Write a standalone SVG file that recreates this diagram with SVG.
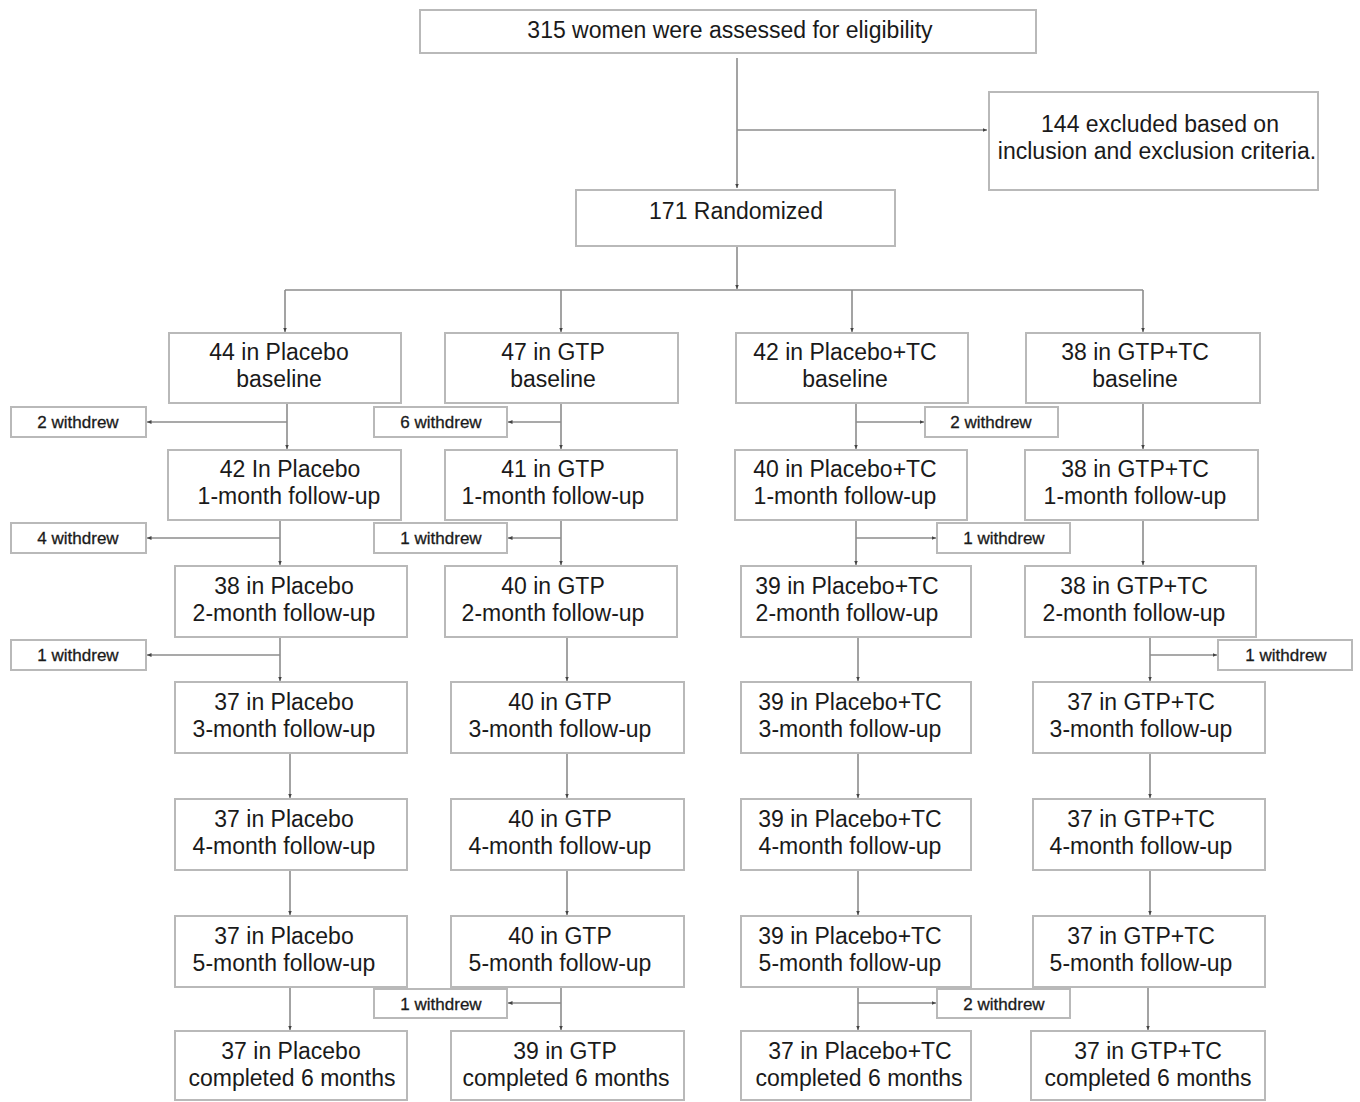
<svg xmlns="http://www.w3.org/2000/svg" width="1360" height="1102" viewBox="0 0 1360 1102">
<style>
.box{fill:#fff;stroke:#b9b9b9;stroke-width:2}
.t{font-family:"Liberation Sans",Arial,sans-serif;font-size:23px;fill:#1a1a1a;text-anchor:middle}
.w{font-family:"Liberation Sans",Arial,sans-serif;font-size:17px;fill:#1a1a1a;text-anchor:middle;stroke:#1a1a1a;stroke-width:0.3}
.c{stroke:#8c8c8c;stroke-width:1.6;fill:none}
.a{marker-end:url(#ah)}
</style>
<defs>
<marker id="ah" markerUnits="userSpaceOnUse" markerWidth="5" markerHeight="5" refX="4.5" refY="2.5" orient="auto">
<path d="M0,0.5 L4.5,2.5 L0,4.5 z" fill="#444"/>
</marker>
</defs>
<rect width="1360" height="1102" fill="#fff"/>
<g id="connectors">
<path class="c a" d="M737,58 V188"/>
<path class="c a" d="M737,130 H987"/>
<path class="c a" d="M737,246 V289"/>
<path class="c" d="M285,290 H1143"/>
<path class="c a" d="M285,290 V332"/>
<path class="c a" d="M561,290 V332"/>
<path class="c a" d="M852,290 V332"/>
<path class="c a" d="M1143,290 V332"/>
<!-- Placebo -->
<path class="c a" d="M287,404 V449"/>
<path class="c a" d="M287,422 H147"/>
<path class="c a" d="M280,521 V565"/>
<path class="c a" d="M280,538 H147"/>
<path class="c a" d="M280,638 V681"/>
<path class="c a" d="M280,655 H147"/>
<path class="c a" d="M290,754 V798"/>
<path class="c a" d="M290,871 V915"/>
<path class="c a" d="M290,988 V1030"/>
<!-- GTP -->
<path class="c a" d="M561,404 V449"/>
<path class="c a" d="M561,422 H508"/>
<path class="c a" d="M561,521 V565"/>
<path class="c a" d="M561,538 H508"/>
<path class="c a" d="M567,638 V681"/>
<path class="c a" d="M567,754 V798"/>
<path class="c a" d="M567,871 V915"/>
<path class="c a" d="M561,988 V1030"/>
<path class="c a" d="M561,1003 H508"/>
<!-- Placebo+TC -->
<path class="c a" d="M856,404 V449"/>
<path class="c a" d="M856,422 H924"/>
<path class="c a" d="M856,521 V565"/>
<path class="c a" d="M856,538 H936"/>
<path class="c a" d="M858,638 V681"/>
<path class="c a" d="M858,754 V798"/>
<path class="c a" d="M858,871 V915"/>
<path class="c a" d="M858,988 V1030"/>
<path class="c a" d="M858,1003 H936"/>
<!-- GTP+TC -->
<path class="c a" d="M1143,404 V449"/>
<path class="c a" d="M1143,521 V565"/>
<path class="c a" d="M1150,638 V681"/>
<path class="c a" d="M1150,655 H1217"/>
<path class="c a" d="M1150,754 V798"/>
<path class="c a" d="M1150,871 V915"/>
<path class="c a" d="M1148,988 V1030"/>
</g>

<g id="n-assessed"><rect class="box" x="420" y="10" width="616" height="43"/><text class="t" x="730" y="38">315 women were assessed for eligibility</text></g>
<g id="n-excluded"><rect class="box" x="989" y="92" width="329" height="98"/><text class="t" x="1160" y="132">144 excluded based on</text><text class="t" x="1157" y="159">inclusion and exclusion criteria.</text></g>
<g id="n-randomized"><rect class="box" x="576" y="190" width="319" height="56"/><text class="t" x="736" y="219">171 Randomized</text></g>

<g id="n-p0"><rect class="box" x="169" y="333" width="232" height="70"/><text class="t" x="279" y="360">44 in Placebo</text><text class="t" x="279" y="387">baseline</text></g>
<g id="n-g0"><rect class="box" x="445" y="333" width="233" height="70"/><text class="t" x="553" y="360">47 in GTP</text><text class="t" x="553" y="387">baseline</text></g>
<g id="n-pt0"><rect class="box" x="736" y="333" width="232" height="70"/><text class="t" x="845" y="360">42 in Placebo+TC</text><text class="t" x="845" y="387">baseline</text></g>
<g id="n-gt0"><rect class="box" x="1026" y="333" width="234" height="70"/><text class="t" x="1135" y="360">38 in GTP+TC</text><text class="t" x="1135" y="387">baseline</text></g>

<g id="w-p0"><rect class="box" x="11" y="407" width="135" height="30"/><text class="w" x="78" y="428">2 withdrew</text></g>
<g id="w-g0"><rect class="box" x="374" y="407" width="133" height="30"/><text class="w" x="441" y="428">6 withdrew</text></g>
<g id="w-pt0"><rect class="box" x="925" y="407" width="133" height="30"/><text class="w" x="991" y="428">2 withdrew</text></g>

<g id="n-p1"><rect class="box" x="168" y="450" width="233" height="70"/><text class="t" x="290" y="477">42  In Placebo</text><text class="t" x="289" y="504">1-month follow-up</text></g>
<g id="n-g1"><rect class="box" x="445" y="450" width="232" height="70"/><text class="t" x="553" y="477">41 in GTP</text><text class="t" x="553" y="504">1-month follow-up</text></g>
<g id="n-pt1"><rect class="box" x="735" y="450" width="232" height="70"/><text class="t" x="845" y="477">40 in Placebo+TC</text><text class="t" x="845" y="504">1-month follow-up</text></g>
<g id="n-gt1"><rect class="box" x="1025" y="450" width="233" height="70"/><text class="t" x="1135" y="477">38 in GTP+TC</text><text class="t" x="1135" y="504">1-month follow-up</text></g>

<g id="w-p1"><rect class="box" x="11" y="523" width="135" height="30"/><text class="w" x="78" y="544">4 withdrew</text></g>
<g id="w-g1"><rect class="box" x="374" y="523" width="133" height="30"/><text class="w" x="441" y="544">1 withdrew</text></g>
<g id="w-pt1"><rect class="box" x="937" y="523" width="133" height="30"/><text class="w" x="1004" y="544">1 withdrew</text></g>

<g id="n-p2"><rect class="box" x="175" y="566" width="232" height="71"/><text class="t" x="284" y="594">38 in Placebo</text><text class="t" x="284" y="621">2-month follow-up</text></g>
<g id="n-g2"><rect class="box" x="445" y="566" width="232" height="71"/><text class="t" x="553" y="594">40 in GTP</text><text class="t" x="553" y="621">2-month follow-up</text></g>
<g id="n-pt2"><rect class="box" x="741" y="566" width="230" height="71"/><text class="t" x="847" y="594">39 in Placebo+TC</text><text class="t" x="847" y="621">2-month follow-up</text></g>
<g id="n-gt2"><rect class="box" x="1025" y="566" width="231" height="71"/><text class="t" x="1134" y="594">38 in GTP+TC</text><text class="t" x="1134" y="621">2-month follow-up</text></g>

<g id="w-p2"><rect class="box" x="11" y="640" width="135" height="30"/><text class="w" x="78" y="661">1 withdrew</text></g>
<g id="w-gt2"><rect class="box" x="1218" y="640" width="134" height="30"/><text class="w" x="1286" y="661">1 withdrew</text></g>

<g id="n-p3"><rect class="box" x="175" y="682" width="232" height="71"/><text class="t" x="284" y="710">37 in Placebo</text><text class="t" x="284" y="737">3-month follow-up</text></g>
<g id="n-g3"><rect class="box" x="451" y="682" width="233" height="71"/><text class="t" x="560" y="710">40 in GTP</text><text class="t" x="560" y="737">3-month follow-up</text></g>
<g id="n-pt3"><rect class="box" x="741" y="682" width="230" height="71"/><text class="t" x="850" y="710">39 in Placebo+TC</text><text class="t" x="850" y="737">3-month follow-up</text></g>
<g id="n-gt3"><rect class="box" x="1033" y="682" width="232" height="71"/><text class="t" x="1141" y="710">37 in GTP+TC</text><text class="t" x="1141" y="737">3-month follow-up</text></g>

<g id="n-p4"><rect class="box" x="175" y="799" width="232" height="71"/><text class="t" x="284" y="827">37 in Placebo</text><text class="t" x="284" y="854">4-month follow-up</text></g>
<g id="n-g4"><rect class="box" x="451" y="799" width="233" height="71"/><text class="t" x="560" y="827">40 in GTP</text><text class="t" x="560" y="854">4-month follow-up</text></g>
<g id="n-pt4"><rect class="box" x="741" y="799" width="230" height="71"/><text class="t" x="850" y="827">39 in Placebo+TC</text><text class="t" x="850" y="854">4-month follow-up</text></g>
<g id="n-gt4"><rect class="box" x="1033" y="799" width="232" height="71"/><text class="t" x="1141" y="827">37 in GTP+TC</text><text class="t" x="1141" y="854">4-month follow-up</text></g>

<g id="n-p5"><rect class="box" x="175" y="916" width="232" height="71"/><text class="t" x="284" y="944">37 in Placebo</text><text class="t" x="284" y="971">5-month follow-up</text></g>
<g id="n-g5"><rect class="box" x="451" y="916" width="233" height="71"/><text class="t" x="560" y="944">40 in GTP</text><text class="t" x="560" y="971">5-month follow-up</text></g>
<g id="n-pt5"><rect class="box" x="741" y="916" width="230" height="71"/><text class="t" x="850" y="944">39 in Placebo+TC</text><text class="t" x="850" y="971">5-month follow-up</text></g>
<g id="n-gt5"><rect class="box" x="1033" y="916" width="232" height="71"/><text class="t" x="1141" y="944">37 in GTP+TC</text><text class="t" x="1141" y="971">5-month follow-up</text></g>

<g id="w-g5"><rect class="box" x="374" y="989" width="133" height="29"/><text class="w" x="441" y="1010">1 withdrew</text></g>
<g id="w-pt5"><rect class="box" x="937" y="989" width="133" height="29"/><text class="w" x="1004" y="1010">2 withdrew</text></g>

<g id="n-p6"><rect class="box" x="175" y="1031" width="232" height="69"/><text class="t" x="291" y="1059">37 in Placebo</text><text class="t" x="292" y="1086">completed 6 months</text></g>
<g id="n-g6"><rect class="box" x="451" y="1031" width="233" height="69"/><text class="t" x="565" y="1059">39 in GTP</text><text class="t" x="566" y="1086">completed 6 months</text></g>
<g id="n-pt6"><rect class="box" x="741" y="1031" width="230" height="69"/><text class="t" x="860" y="1059">37 in Placebo+TC</text><text class="t" x="859" y="1086">completed 6 months</text></g>
<g id="n-gt6"><rect class="box" x="1031" y="1031" width="234" height="69"/><text class="t" x="1148" y="1059">37 in GTP+TC</text><text class="t" x="1148" y="1086">completed 6 months</text></g>
</svg>
